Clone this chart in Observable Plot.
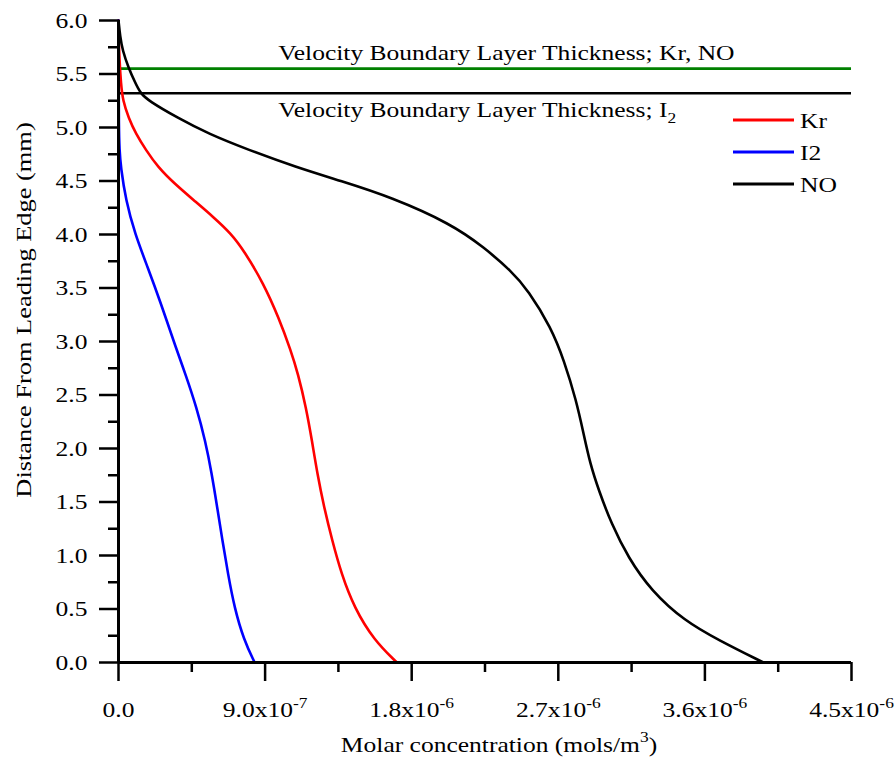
<!DOCTYPE html>
<html>
<head>
<meta charset="utf-8">
<script src="https://cdn.jsdelivr.net/npm/d3@7"></script>
<script src="https://cdn.jsdelivr.net/npm/@observablehq/plot@0.6"></script>
<style>
  html, body { margin: 0; padding: 0; background: #ffffff; }
  #chart { width: 896px; height: 761px; }
</style>
</head>
<body>
<div id="chart"></div>
<script>
// ---- Data (concentrations in units of 10^-6 mol/m^3, distance in mm) ----
const seriesNames  = ["Kr", "I2", "NO"];
const seriesColors = ["#ff0000", "#0000ff", "#000000"];

const krDistance = [0, 0.21, 0.51, 0.83, 1.14, 1.45, 1.77, 2.07, 2.38, 2.70, 2.92, 3.22, 3.54, 3.85, 4.01, 4.16, 4.32, 4.48, 4.63, 4.79, 4.94, 5.09, 5.25, 5.41, 5.63, 5.85, 6.0];
const krConc     = [1.709, 1.568, 1.448, 1.368, 1.312, 1.262, 1.220, 1.188, 1.152, 1.102, 1.057, 0.984, 0.891, 0.770, 0.690, 0.585, 0.462, 0.340, 0.242, 0.168, 0.107, 0.062, 0.027, 0.015, 0.006, 0.001, 0];

const i2Distance = [0, 0.21, 0.51, 0.83, 1.14, 1.45, 1.77, 2.07, 2.38, 2.70, 2.92, 3.38, 3.69, 4.01, 4.32, 4.63, 4.79, 5.0, 5.5, 6.0];
const i2Conc     = [0.836, 0.770, 0.712, 0.672, 0.638, 0.606, 0.572, 0.533, 0.480, 0.410, 0.357, 0.255, 0.180, 0.100, 0.045, 0.014, 0.006, 0.002, 0.001, 0];

const noDistance = [0, 0.21, 0.39, 0.67, 0.98, 1.30, 1.61, 1.86, 2.14, 2.45, 2.82, 3.13, 3.48, 3.66, 3.88, 4.10, 4.35, 4.50, 4.63, 4.79, 4.94, 5.09, 5.25, 5.32, 5.41, 5.56, 5.72, 5.85, 6.0];
const noConc     = [3.959, 3.683, 3.474, 3.271, 3.129, 3.025, 2.948, 2.895, 2.855, 2.810, 2.736, 2.656, 2.515, 2.410, 2.244, 2.041, 1.672, 1.365, 1.088, 0.799, 0.553, 0.363, 0.184, 0.135, 0.105, 0.061, 0.025, 0.010, 0];

// Velocity boundary layer thicknesses (mm)
const blThickness = [5.55, 5.32];
const blColors    = ["#008000", "#000000"];
const blLabels    = ["Velocity Boundary Layer Thickness; Kr, NO", "Velocity Boundary Layer Thickness; I"];
const blSubscript = ["", "2"];

// Ticks
const yTicks = [0, 0.5, 1, 1.5, 2, 2.5, 3, 3.5, 4, 4.5, 5, 5.5, 6];
const yMinor = [0.25, 0.75, 1.25, 1.75, 2.25, 2.75, 3.25, 3.75, 4.25, 4.75, 5.25, 5.75];
const xTicks = [0, 0.9, 1.8, 2.7, 3.6, 4.5];
const xTickLabels = ["0.0", "9.0x10^-7", "1.8x10^-6", "2.7x10^-6", "3.6x10^-6", "4.5x10^-6"];
const xMinor = [0.45, 1.35, 2.25, 3.15, 4.05];

const xTitle = ["Molar concentration (mols/m", "3", ")"];
const yTitle = "Distance From Leading Edge (mm)";

// ---- Build table ----
const table = [];
[[krDistance, krConc], [i2Distance, i2Conc], [noDistance, noConc]].forEach(([ds, cs], k) => {
  ds.forEach((d, i) => table.push({series: seriesNames[k], d, c: cs[i]}));
});

const FONT = "'Liberation Serif', 'Times New Roman', serif";

const plot = Plot.plot({
  width: 896,
  height: 761,
  marginLeft: 118,
  marginRight: 45,
  marginTop: 20,
  marginBottom: 99,
  style: {fontFamily: FONT, fontSize: "22px", color: "#000", background: "#fff", overflow: "visible"},
  x: {domain: [0, 4.5]},
  y: {domain: [0, 6]},
  color: {domain: seriesNames, range: seriesColors},
  marks: [
    Plot.axisY({ticks: yMinor, tickSize: 10, tickFormat: () => "", strokeWidth: 2.5, label: null}),
    Plot.axisY({ticks: yTicks, tickSize: 19, tickPadding: 12, tickFormat: d => d.toFixed(1), strokeWidth: 2.5, label: null}),
    Plot.axisX({ticks: xMinor, tickSize: 10, tickFormat: () => "", strokeWidth: 2.5, label: null}),
    Plot.axisX({ticks: xTicks, tickSize: 19, tickPadding: 20, tickFormat: d => xTickLabels[xTicks.indexOf(d)], strokeWidth: 2.5, label: null, className: "xticklabels"}),
    Plot.ruleY([blThickness[0]], {stroke: blColors[0], strokeWidth: 2.6}),
    Plot.ruleY([blThickness[1]], {stroke: blColors[1], strokeWidth: 2.6}),
    Plot.text([blThickness[0]], {x: 0.98, y: d => d, text: () => blLabels[0], textAnchor: "start", lineAnchor: "middle", dy: -15.5, className: "bl0"}),
    Plot.text([blThickness[1]], {x: 0.98, y: d => d, text: () => blLabels[1], textAnchor: "start", lineAnchor: "middle", dy: 17, className: "bl1"}),
    Plot.line(table, {x: "c", y: "d", z: "series", stroke: "series", strokeWidth: 2.6, curve: "basis"}),
    Plot.ruleX([0], {strokeWidth: 3}),
    Plot.ruleY([0], {strokeWidth: 3})
  ]
});

document.getElementById("chart").appendChild(plot);
const svg = d3.select(plot);

// Superscripts on x tick labels
svg.selectAll(".xticklabels text").each(function() {
  const t = this.textContent;
  if (t.includes("^")) {
    const [base, exp] = t.split("^");
    const el = d3.select(this);
    el.text(base);
    el.append("tspan").attr("dy", "-9").attr("font-size", "15px").text(exp);
  }
});

// Subscript on boundary-layer label
svg.selectAll(".bl1 text").each(function() {
  d3.select(this).append("tspan").attr("dy", "6").attr("font-size", "15px").text(blSubscript[1]);
});

// Axis titles
const xt = svg.append("text")
  .attr("x", 499).attr("y", 752)
  .attr("text-anchor", "middle")
  .attr("fill", "#000");
xt.append("tspan").text(xTitle[0]);
xt.append("tspan").attr("dy", "-10").attr("font-size", "15px").text(xTitle[1]);
xt.append("tspan").attr("dy", "10").attr("font-size", "22px").text(xTitle[2]);

svg.append("text")
  .attr("transform", "translate(31,310) rotate(-90)")
  .attr("text-anchor", "middle")
  .attr("fill", "#000")
  .attr("class", "ytitle")
  .text(yTitle);

// Legend
const lg = svg.append("g").attr("text-anchor", "start");
seriesNames.forEach((name, i) => {
  const y = 120 + i * 32;
  lg.append("line").attr("x1", 733).attr("x2", 794).attr("y1", y).attr("y2", y)
    .attr("stroke", seriesColors[i]).attr("stroke-width", 3);
  lg.append("text").attr("x", 800).attr("y", y).attr("dy", "0.36em")
    .attr("text-anchor", "start").attr("fill", "#000").text(name);
});

// Widen glyphs horizontally to match the reference's wide serif text
svg.selectAll("text").each(function() {
  const w = this.getComputedTextLength();
  if (w > 0) {
    const s = this.classList.contains("ytitle") ? 1.2 : 1.16;
    this.setAttribute("textLength", (w * s).toFixed(1));
    this.setAttribute("lengthAdjust", "spacingAndGlyphs");
  }
});
</script>
</body>
</html>
